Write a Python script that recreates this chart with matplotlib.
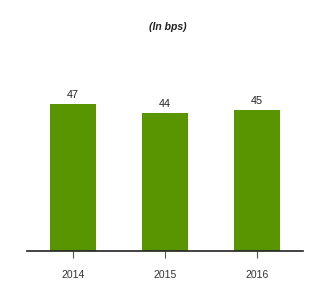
import matplotlib
matplotlib.use("Agg")
import matplotlib.pyplot as plt

categories = ["2014", "2015", "2016"]
values = [47, 44, 45]
title = "(In bps)"

plt.rcParams['font.family'] = ['Liberation Sans', 'DejaVu Sans']

fig = plt.figure(figsize=(3.36, 3.05), dpi=100)
ax = fig.add_axes([27/336, 1-250.5/305, 276/336, 190.5/305])
x = range(len(categories))
bars = ax.bar(x, values, width=0.5, color='#589500')
ax.set_xlim(-0.5, 2.5)
ax.set_ylim(0, 190.5/3.115)
for xi, v in zip(x, values):
    ax.annotate(str(v), (xi, v), xytext=(0, 3), textcoords='offset points',
                ha='center', va='bottom', fontsize=7.8, color='#222222')
ax.set_xticks(list(x))
ax.set_xticklabels(categories, fontsize=7.5, color='#333333')
ax.tick_params(axis='x', length=5, width=0.8, color='#555555', pad=9)
ax.set_yticks([])
for s in ['top', 'right', 'left']:
    ax.spines[s].set_visible(False)
ax.spines['bottom'].set_color('#222222')
ax.spines['bottom'].set_linewidth(1.2)
fig.text(0.5, 1-27/305, title, ha='center', va='center', fontsize=7.5,
         fontweight='bold', fontstyle='italic', color='#222222')
fig.savefig("out.png", dpi=100)
